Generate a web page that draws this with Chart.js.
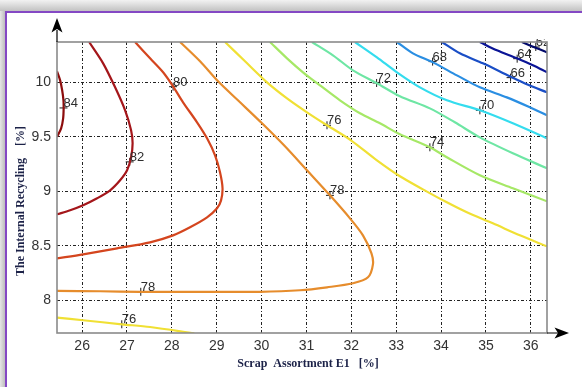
<!DOCTYPE html>
<html>
<head>
<meta charset="utf-8">
<script src="https://cdn.jsdelivr.net/npm/chart.js@4/dist/chart.umd.min.js"></script>
<style>
  html, body { margin: 0; padding: 0; background: #fff; }
  #wrap { position: relative; width: 582px; height: 387px; }
  canvas { display: block; }
</style>
</head>
<body>
<div id="wrap"><canvas id="c" width="582" height="387"></canvas></div>
<script>
// Tick values on both axes
const xTicks = [26, 27, 28, 29, 30, 31, 32, 33, 34, 35, 36];
const yTicks = [8, 8.5, 9, 9.5, 10];

// Contour lines, one array per level: [scrap assortment E1 %, internal recycling %]
const c84 = [[25.44,10.10],[25.51,10.018],[25.555,9.927],[25.584,9.835],[25.588,9.761],[25.577,9.670],[25.532,9.578],[25.44,9.50]];
const c82 = [[26.156,10.37],[26.468,10.174],[26.735,9.954],[26.958,9.743],[27.091,9.560],[27.125,9.440],[27.091,9.312],[27.002,9.193],[26.846,9.101],[26.624,9.009],[26.334,8.936],[26.022,8.872],[25.733,8.826],[25.44,8.789]];
const c80 = [[27.180,10.37],[27.514,10.220],[27.804,10.092],[28.027,9.963],[28.249,9.817],[28.561,9.633],[28.784,9.486],[28.962,9.330],[29.073,9.174],[29.129,9.028],[29.096,8.917],[29.007,8.844],[28.784,8.761],[28.405,8.670],[28.027,8.596],[27.514,8.532],[26.780,8.477],[26.022,8.422],[25.44,8.385]];
const c78 = [[28.183,10.37],[28.628,10.193],[29.029,10.009],[29.519,9.817],[30.009,9.624],[30.499,9.422],[31.011,9.193],[31.523,8.963],[31.969,8.752],[32.258,8.596],[32.448,8.431],[32.481,8.330],[32.370,8.211],[32.036,8.156],[31.457,8.119],[30.855,8.092],[29.964,8.078],[28.628,8.078],[27.292,8.078],[26.401,8.083],[25.44,8.087]];
const c76Upper = [[29.185,10.37],[29.630,10.193],[30.120,10.0],[30.566,9.853],[31.011,9.725],[31.457,9.606],[31.991,9.468],[32.570,9.284],[33.082,9.138],[33.595,9.018],[34.085,8.908],[34.575,8.807],[35.154,8.706],[35.755,8.596],[36.36,8.495]];
const c76Lower = [[25.44,7.841],[26.022,7.817],[26.884,7.780],[27.514,7.755],[28.50,7.697]];
const c74 = [[30.187,10.37],[30.566,10.220],[30.922,10.092],[31.301,9.972],[31.746,9.835],[32.192,9.716],[32.637,9.624],[33.082,9.523],[33.750,9.404],[34.129,9.312],[34.864,9.147],[35.599,9.028],[36.36,8.908]];
const c72 = [[31.122,10.37],[31.590,10.248],[32.036,10.110],[32.570,9.991],[33.082,9.872],[33.750,9.761],[34.307,9.633],[34.864,9.495],[35.599,9.349],[36.36,9.211]];
const c70 = [[32.080,10.37],[32.570,10.229],[33.016,10.092],[33.528,9.954],[34.129,9.835],[34.864,9.743],[35.599,9.624],[36.36,9.486]];
const c68 = [[33.016,10.37],[33.372,10.266],[33.817,10.183],[34.352,10.064],[34.864,9.954],[35.465,9.862],[35.978,9.771],[36.36,9.697]];
const c66 = [[34.018,10.37],[34.419,10.266],[34.931,10.174],[35.532,10.055],[35.911,9.982],[36.36,9.908]];
const c64 = [[34.864,10.37],[35.243,10.294],[35.688,10.220],[36.045,10.156],[36.36,10.092]];
const c62 = [[35.800,10.37],[36.134,10.312],[36.36,10.275]];

// Contour label anchors: [x, y, level]
const labelAt = [
  [25.585, 9.765, 84], [27.06, 9.27, 82], [28.027, 9.96, 80],
  [31.523, 8.963, 78], [27.307, 8.078, 78],
  [31.457, 9.606, 76], [26.884, 7.780, 76],
  [33.75, 9.404, 74], [32.563, 9.994, 72], [34.864, 9.743, 70],
  [33.811, 10.19, 68], [35.548, 10.043, 66], [35.695, 10.217, 64], [36.11, 10.324, 62]
];

const lines = [
  { pts: c84, color: '#8c0c0c' },
  { pts: c82, color: '#a4161a' },
  { pts: c80, color: '#d4451e' },
  { pts: c78, color: '#e68c2c' },
  { pts: c76Upper, color: '#f0e034' },
  { pts: c76Lower, color: '#f0e034' },
  { pts: c74, color: '#a6e866' },
  { pts: c72, color: '#6ee6a4' },
  { pts: c70, color: '#34dcee' },
  { pts: c68, color: '#2a8ee2' },
  { pts: c66, color: '#1a4ec6' },
  { pts: c64, color: '#0a1496' },
  { pts: c62, color: '#00086a' }
];

const toXY = arr => arr.map(([x, y]) => ({ x, y }));

const datasets = lines.map(l => ({
  data: toXY(l.pts),
  showLine: true,
  borderColor: l.color,
  borderWidth: 2.2,
  pointRadius: 0,
  tension: 0.3,
  fill: false
}));

datasets.push({
  data: labelAt.map(([x, y]) => ({ x, y })),
  showLine: false,
  pointStyle: 'cross',
  pointRadius: 4,
  borderColor: '#1a1a1a',
  borderWidth: 1
});

// Window frame behind the plot
const framePlugin = {
  id: 'frame',
  beforeDraw(chart) {
    const ctx = chart.ctx;
    ctx.save();
    ctx.fillStyle = '#ffffff';
    ctx.fillRect(0, 0, chart.width, chart.height);
    const g = ctx.createLinearGradient(0, 0, 0, 11);
    g.addColorStop(0, '#f2f2f2');
    g.addColorStop(1, '#c2c2c2');
    ctx.fillStyle = g;
    ctx.fillRect(0, 0, chart.width, 11);
    const gl = ctx.createLinearGradient(0, 0, 5, 0);
    gl.addColorStop(0, '#e6e6e6');
    gl.addColorStop(1, '#bdbdbd');
    ctx.fillStyle = gl;
    ctx.fillRect(0, 11, 5, chart.height - 11);
    ctx.fillStyle = '#8448c4';
    ctx.fillRect(5, 11, chart.width - 5, 2);
    ctx.fillRect(5, 11, 2, chart.height - 11);
    ctx.restore();
  }
};

// Contour labels, plot border, axis arrows and axis titles
const decorPlugin = {
  id: 'decor',
  afterDatasetsDraw(chart) {
    const { ctx, chartArea: a, scales: { x, y } } = chart;
    ctx.save();
    ctx.beginPath();
    ctx.rect(a.left, a.top - 3, a.right - a.left, a.bottom - a.top + 3);
    ctx.clip();
    ctx.fillStyle = '#2e2e2e';
    ctx.font = '13px "Liberation Sans", Arial, sans-serif';
    ctx.textAlign = 'left';
    ctx.textBaseline = 'alphabetic';
    labelAt.forEach(([vx, vy, lvl]) => {
      ctx.fillText(String(lvl), x.getPixelForValue(vx), y.getPixelForValue(vy) - 1);
    });
    ctx.restore();

    ctx.save();
    ctx.strokeStyle = '#8a8a8a';
    ctx.lineWidth = 1.6;
    ctx.strokeRect(a.left, a.top, a.right - a.left, a.bottom - a.top);

    // arrows
    ctx.strokeStyle = '#000';
    ctx.fillStyle = '#000';
    ctx.lineWidth = 1.2;
    ctx.beginPath();
    ctx.moveTo(a.left, a.top);
    ctx.lineTo(a.left, a.top - 12);
    ctx.moveTo(a.right, a.bottom);
    ctx.lineTo(a.right + 12, a.bottom);
    ctx.stroke();
    ctx.beginPath();
    ctx.moveTo(a.left, a.top - 24);
    ctx.lineTo(a.left - 5.5, a.top - 9.5);
    ctx.lineTo(a.left, a.top - 13);
    ctx.lineTo(a.left + 5.5, a.top - 9.5);
    ctx.closePath();
    ctx.fill();
    ctx.beginPath();
    ctx.moveTo(a.right + 22, a.bottom);
    ctx.lineTo(a.right + 7.5, a.bottom - 5.5);
    ctx.lineTo(a.right + 11, a.bottom);
    ctx.lineTo(a.right + 7.5, a.bottom + 5.5);
    ctx.closePath();
    ctx.fill();

    // axis titles
    ctx.fillStyle = '#1c2248';
    ctx.font = 'bold 12px "Liberation Serif", "Times New Roman", serif';
    ctx.textAlign = 'center';
    ctx.textBaseline = 'middle';
    ctx.fillText('Scrap  Assortment E1   [%]', a.left + 251, a.bottom + 31);
    ctx.translate(a.left - 36, a.top + 159);
    ctx.rotate(-Math.PI / 2);
    ctx.fillText('The Internal Recycling    [%]', 0, 0);
    ctx.restore();
  }
};

const gridDash = [3, 2, 1, 2];

new Chart(document.getElementById('c'), {
  type: 'scatter',
  data: { datasets },
  options: {
    responsive: false,
    animation: false,
    devicePixelRatio: 1,
    events: [],
    layout: { padding: { top: 42, right: 35, left: 0, bottom: 0 } },
    plugins: { legend: { display: false }, tooltip: { enabled: false } },
    scales: {
      x: {
        type: 'linear',
        min: 25.44,
        max: 36.36,
        afterFit(s) { s.height = 54; },
        afterBuildTicks(s) { s.ticks = xTicks.map(v => ({ value: v })); },
        border: { display: false, dash: gridDash },
        grid: { color: '#222', lineWidth: 1, drawTicks: false },
        ticks: {
          padding: 5,
          color: '#333',
          font: { family: '"Liberation Sans", Arial, sans-serif', size: 14 },
          callback: v => String(v)
        }
      },
      y: {
        type: 'linear',
        min: 7.7,
        max: 10.37,
        afterFit(s) { s.width = 57; },
        afterBuildTicks(s) { s.ticks = yTicks.map(v => ({ value: v })); },
        border: { display: false, dash: gridDash },
        grid: { color: '#222', lineWidth: 1, drawTicks: false },
        ticks: {
          padding: 6,
          color: '#333',
          font: { family: '"Liberation Sans", Arial, sans-serif', size: 14 },
          callback: v => String(v)
        }
      }
    }
  },
  plugins: [framePlugin, decorPlugin]
});
</script>
</body>
</html>
